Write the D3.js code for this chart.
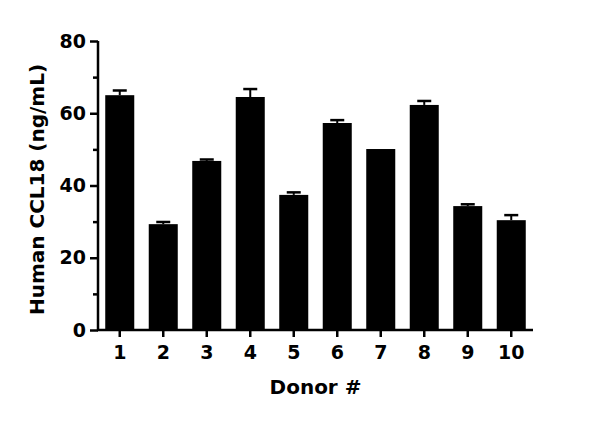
<!DOCTYPE html>
<html><head><meta charset="utf-8">
<script src="https://cdn.jsdelivr.net/npm/d3@7"></script>
<style>body{margin:0;background:#fff}svg{display:block}</style>
</head><body>
<svg id="c" width="600" height="421"></svg>
<script>
const donors = ["1","2","3","4","5","6","7","8","9","10"];
const values = [65.0, 29.3, 46.8, 64.5, 37.4, 57.3, 50.1, 62.3, 34.3, 30.4];
const errors = [1.3, 0.6, 0.4, 2.2, 0.7, 0.8, 0.0, 1.1, 0.5, 1.4];
const yTicks = [0, 20, 40, 60, 80];
const yMinorTicks = [10, 30, 50, 70];

const svg = d3.select("#c");
const font = "'DejaVu Sans', sans-serif";
const mLeft = 98, mRight = 533, mTop = 41, mBottom = 330;

const x = d3.scaleBand().domain(donors).range([mLeft, mRight]).paddingInner(0.333).paddingOuter(0.1665);
const y = d3.scaleLinear().domain([0, 80]).range([mBottom, mTop]);

// bars
svg.append("g").selectAll("rect").data(donors).join("rect")
  .attr("x", d => x(d)).attr("width", x.bandwidth())
  .attr("y", (d,i) => y(values[i])).attr("height", (d,i) => y(0) - y(values[i]))
  .attr("fill", "#000");

// error bars
const eg = svg.append("g").attr("stroke", "#000");
donors.forEach((d,i) => {
  if (errors[i] <= 0) return;
  const cx = x(d) + x.bandwidth()/2;
  eg.append("line").attr("x1", cx).attr("x2", cx)
    .attr("y1", y(values[i])).attr("y2", y(values[i]+errors[i])).attr("stroke-width", 2);
  eg.append("line").attr("x1", cx-7).attr("x2", cx+7)
    .attr("y1", y(values[i]+errors[i])).attr("y2", y(values[i]+errors[i])).attr("stroke-width", 2.5);
});

// y axis
const ya = svg.append("g").attr("transform", `translate(${mLeft},0)`)
  .call(d3.axisLeft(y).tickValues(yTicks).tickSize(8).tickPadding(4).tickSizeOuter(0));
ya.select(".domain").attr("stroke-width", 2.5).attr("d", `M0,${mBottom+1}V${mTop}`);
ya.selectAll(".tick line").attr("stroke-width", 2.5);
ya.selectAll(".tick text").attr("font-family", font).attr("font-weight", "bold").attr("font-size", 19).attr("fill", "#000");
const ym = svg.append("g").attr("transform", `translate(${mLeft},0)`)
  .call(d3.axisLeft(y).tickValues(yMinorTicks).tickSize(5).tickFormat(""));
ym.select(".domain").remove();
ym.selectAll(".tick line").attr("stroke-width", 2.5);

// x axis
const xa = svg.append("g").attr("transform", `translate(0,${mBottom})`)
  .call(d3.axisBottom(x).tickSize(7).tickPadding(9).tickSizeOuter(0));
xa.select(".domain").attr("stroke-width", 2.5).attr("d", `M${mLeft-1},0H${mRight}`);
xa.selectAll(".tick line").attr("stroke-width", 2.5);
xa.selectAll(".tick text").attr("font-family", font).attr("font-weight", "bold").attr("font-size", 19).attr("fill", "#000");

// titles
svg.append("text").attr("x", (mLeft+mRight)/2).attr("y", 394).attr("text-anchor", "middle")
  .attr("font-family", font).attr("font-weight", "bold").attr("font-size", 20).text("Donor #");
svg.append("text").attr("transform", `translate(44,${(mTop+mBottom)/2+4}) rotate(-90)`).attr("text-anchor", "middle")
  .attr("font-family", font).attr("font-weight", "bold").attr("font-size", 20).text("Human CCL18 (ng/mL)");
</script>
</body></html>
